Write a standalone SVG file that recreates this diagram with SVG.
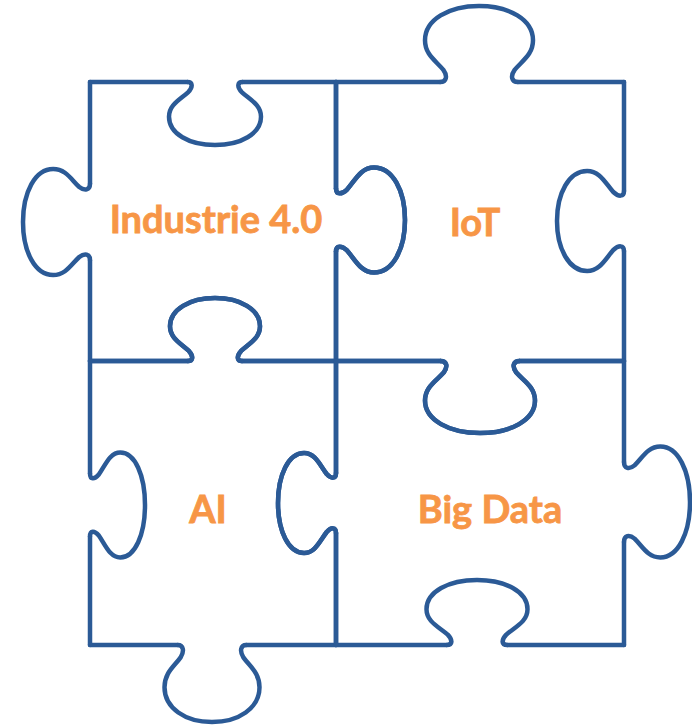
<svg xmlns="http://www.w3.org/2000/svg" xmlns:xlink="http://www.w3.org/1999/xlink" width="692" height="728" viewBox="0 0 692 728">
  <style>
    .edge { fill: none; stroke: #2b5a96; stroke-width: 4.5; stroke-linecap: round; stroke-linejoin: round; }
    .knob { fill: none; stroke: #2b5a96; stroke-width: 4.5; stroke-linecap: round; stroke-linejoin: round; vector-effect: non-scaling-stroke; }
    .label { font-family: Lato, "Open Sans", "Liberation Sans", sans-serif; font-weight: 700; font-size: 38px; fill: #f79646; stroke: #f79646; stroke-width: 0.8; text-anchor: middle; }
  </style>
  <defs>
    <!-- unit knob: bulge width 1, depth 1, pointing up from the base line y=0 -->
    <path id="knob-wide" class="knob" d="M-0.36,0 C-0.30,0 -0.29,-0.08 -0.33,-0.16 C-0.40,-0.28 -0.5,-0.36 -0.5,-0.55 C-0.5,-0.82 -0.28,-1 0,-1 C0.28,-1 0.5,-0.82 0.5,-0.55 C0.5,-0.36 0.40,-0.28 0.33,-0.16 C0.29,-0.08 0.30,0 0.36,0"/>
    <path id="knob-narrow" class="knob" d="M-0.30,0 C-0.24,0 -0.24,-0.08 -0.29,-0.16 C-0.38,-0.28 -0.5,-0.36 -0.5,-0.55 C-0.5,-0.82 -0.28,-1 0,-1 C0.28,-1 0.5,-0.82 0.5,-0.55 C0.5,-0.36 0.38,-0.28 0.29,-0.16 C0.24,-0.08 0.24,0 0.30,0"/>

    <!-- horizontal edges -->
    <g id="edge-top-left">
      <path class="edge" d="M90,82 L187.4,82 M242.6,82 L336,82"/>
      <use xlink:href="#knob-narrow" transform="translate(215,82) scale(92,-63)"/>
    </g>
    <g id="edge-top-right">
      <path class="edge" d="M336,82 L440.1,82 M517.9,82 L624,82"/>
      <use xlink:href="#knob-wide" transform="translate(479,82) scale(108,76)"/>
    </g>
    <g id="edge-mid-left">
      <path class="edge" d="M90,361 L188,361 M242,361 L336,361"/>
      <use xlink:href="#knob-narrow" transform="translate(215,361) scale(90,63)"/>
    </g>
    <g id="edge-mid-right">
      <path class="edge" d="M336,361 L440.4,361 M519.6,361 L624,361"/>
      <use xlink:href="#knob-wide" transform="translate(480,361) scale(110,-72)"/>
    </g>
    <g id="edge-bottom-left">
      <path class="edge" d="M90,645 L177.8,645 M246.2,645 L336,645"/>
      <use xlink:href="#knob-wide" transform="translate(212,645) scale(95,-77)"/>
    </g>
    <g id="edge-bottom-right">
      <path class="edge" d="M336,645 L446.7,645 M507.3,645 L624,645"/>
      <use xlink:href="#knob-narrow" transform="translate(477,645) scale(101,65)"/>
    </g>

    <!-- vertical edges -->
    <g id="edge-left-top">
      <path class="edge" d="M90,82 L90,183.8 M90,260.2 L90,361"/>
      <use xlink:href="#knob-wide" transform="matrix(0,106,67,0,90,222)"/>
    </g>
    <g id="edge-left-bottom">
      <path class="edge" d="M90,361 L90,473.5 M90,536.5 L90,645"/>
      <use xlink:href="#knob-narrow" transform="matrix(0,105,-55,0,90,505)"/>
    </g>
    <g id="edge-center-top">
      <path class="edge" d="M336,82 L336,188.5 M336,251.5 L336,361"/>
      <use xlink:href="#knob-narrow" transform="matrix(0,105,-69,0,336,220)"/>
    </g>
    <g id="edge-center-bottom">
      <path class="edge" d="M336,361 L336,473 M336,533 L336,645"/>
      <use xlink:href="#knob-narrow" transform="matrix(0,100,58,0,336,503)"/>
    </g>
    <g id="edge-right-top">
      <path class="edge" d="M624,82 L624,191 M624,251 L624,361"/>
      <use xlink:href="#knob-narrow" transform="matrix(0,100,67,0,624,221)"/>
    </g>
    <g id="edge-right-bottom">
      <path class="edge" d="M624,361 L624,462 M624,542 L624,645"/>
      <use xlink:href="#knob-wide" transform="matrix(0,111,-66,0,624,502)"/>
    </g>
  </defs>

  <rect width="692" height="728" fill="#ffffff"/>

  <g id="piece-industrie">
    <use xlink:href="#edge-top-left"/>
    <use xlink:href="#edge-center-top"/>
    <use xlink:href="#edge-mid-left"/>
    <use xlink:href="#edge-left-top"/>
    <text class="label" x="216" y="233">Industrie 4.0</text>
  </g>

  <g id="piece-iot">
    <use xlink:href="#edge-top-right"/>
    <use xlink:href="#edge-right-top"/>
    <use xlink:href="#edge-mid-right"/>
    <use xlink:href="#edge-center-top"/>
    <text class="label" x="475" y="236">IoT</text>
  </g>

  <g id="piece-ai">
    <use xlink:href="#edge-mid-left"/>
    <use xlink:href="#edge-center-bottom"/>
    <use xlink:href="#edge-bottom-left"/>
    <use xlink:href="#edge-left-bottom"/>
    <text class="label" x="208" y="523">AI</text>
  </g>

  <g id="piece-big-data">
    <use xlink:href="#edge-mid-right"/>
    <use xlink:href="#edge-right-bottom"/>
    <use xlink:href="#edge-bottom-right"/>
    <use xlink:href="#edge-center-bottom"/>
    <text class="label" x="490" y="523">Big Data</text>
  </g>
</svg>
